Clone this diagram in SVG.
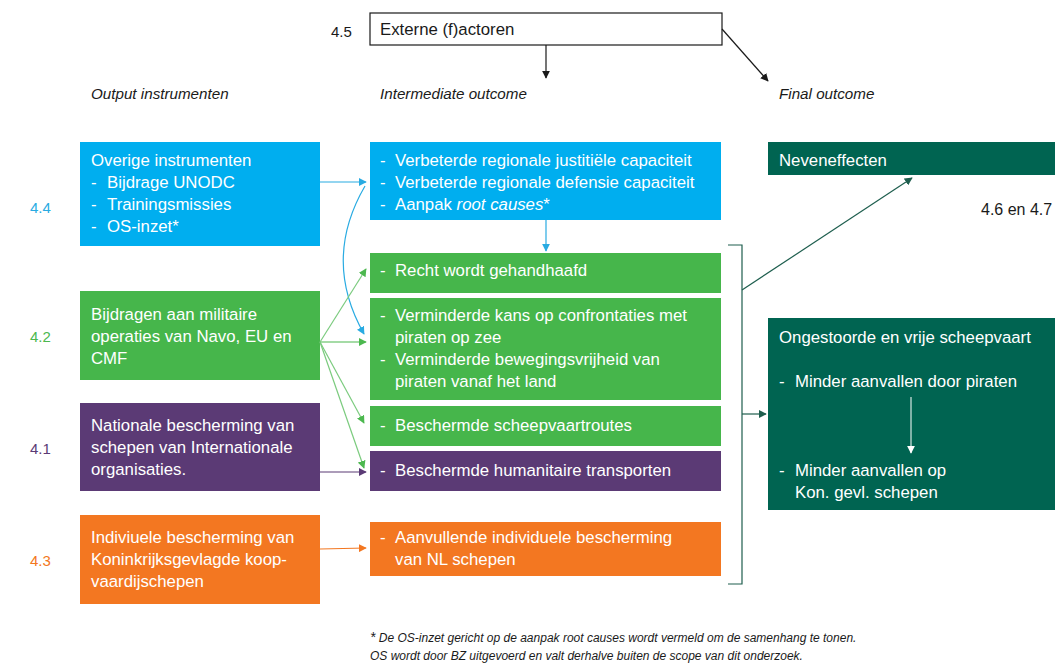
<svg xmlns="http://www.w3.org/2000/svg" width="1055" height="666" viewBox="0 0 1055 666">
<defs>
<style>
text{font-family:"Liberation Sans",Arial,sans-serif;font-size:16.8px;fill:#fff}
.k{fill:#1a1a1a}
.h{font-style:italic;font-size:15.2px;fill:#1a1a1a}
.n{font-size:15px}
.f{font-style:italic;font-size:12px;fill:#1a1a1a}
.blue{fill:#00AEEF}.green{fill:#46B64B}.purple{fill:#5B3A75}.orange{fill:#F37721}.dg{fill:#006451}
</style>
<marker id="aK" viewBox="0 0 10 10" refX="9" refY="5" markerWidth="8" markerHeight="8" orient="auto" markerUnits="userSpaceOnUse"><path d="M0,0L10,5L0,10z" fill="#1a1a1a"/></marker>
<marker id="aB" viewBox="0 0 10 10" refX="9" refY="5" markerWidth="8" markerHeight="8" orient="auto" markerUnits="userSpaceOnUse"><path d="M0,0L10,5L0,10z" fill="#29ABE2"/></marker>
<marker id="aG" viewBox="0 0 10 10" refX="9" refY="5" markerWidth="8" markerHeight="8" orient="auto" markerUnits="userSpaceOnUse"><path d="M0,0L10,5L0,10z" fill="#4CB84F"/></marker>
<marker id="aP" viewBox="0 0 10 10" refX="9" refY="5" markerWidth="8" markerHeight="8" orient="auto" markerUnits="userSpaceOnUse"><path d="M0,0L10,5L0,10z" fill="#5B3A75"/></marker>
<marker id="aO" viewBox="0 0 10 10" refX="9" refY="5" markerWidth="8" markerHeight="8" orient="auto" markerUnits="userSpaceOnUse"><path d="M0,0L10,5L0,10z" fill="#F37721"/></marker>
<marker id="aD" viewBox="0 0 10 10" refX="9" refY="5" markerWidth="8" markerHeight="8" orient="auto" markerUnits="userSpaceOnUse"><path d="M0,0L10,5L0,10z" fill="#1E5E4E"/></marker>
<marker id="aW" viewBox="0 0 10 10" refX="9" refY="5" markerWidth="8" markerHeight="8" orient="auto" markerUnits="userSpaceOnUse"><path d="M0,0L10,5L0,10z" fill="#fff"/></marker>
</defs>
<rect width="1055" height="666" fill="#fff"/>

<g id="labels">
<text class="k n" x="331" y="37">4.5</text>
<text class="h" x="91" y="99">Output instrumenten</text>
<text class="h" x="380" y="99">Intermediate outcome</text>
<text class="h" x="779" y="99">Final outcome</text>
<text class="n" x="30" y="213" style="fill:#29ABE2">4.4</text>
<text class="n" x="30" y="342" style="fill:#4CB84F">4.2</text>
<text class="n" x="30" y="454" style="fill:#5B3A75">4.1</text>
<text class="n" x="30" y="566" style="fill:#F37721">4.3</text>
<text class="k n" x="981" y="215" style="font-size:16px">4.6 en 4.7</text>
</g>

<g id="externe">
<rect x="370" y="13" width="352" height="32" fill="#fff" stroke="#1a1a1a" stroke-width="1.2"/>
<text class="k" x="380" y="35">Externe (f)actoren</text>
</g>

<g id="overige">
<rect class="blue" x="80" y="142" width="240" height="104"/>
<text x="91" y="166">Overige instrumenten</text>
<text x="91" y="188">-</text><text x="107" y="188">Bijdrage UNODC</text>
<text x="91" y="210">-</text><text x="107" y="210">Trainingsmissies</text>
<text x="91" y="232">-</text><text x="107" y="232">OS-inzet*</text>
</g>
<g id="bijdragen">
<rect class="green" x="80" y="291" width="240" height="89"/>
<text x="91" y="320">Bijdragen aan militaire</text>
<text x="91" y="342">operaties van Navo, EU en</text>
<text x="91" y="364">CMF</text>
</g>
<g id="nationale">
<rect class="purple" x="80" y="403" width="240" height="88"/>
<text x="91" y="431">Nationale bescherming van</text>
<text x="91" y="453">schepen van Internationale</text>
<text x="91" y="475">organisaties.</text>
</g>
<g id="individuele">
<rect class="orange" x="80" y="515" width="240" height="89"/>
<text x="91" y="543">Indiviuele bescherming van</text>
<text x="91" y="565">Koninkrijksgevlagde koop-</text>
<text x="91" y="587">vaardijschepen</text>
</g>

<g id="verbeterde">
<rect class="blue" x="370" y="142" width="351" height="78"/>
<text x="380" y="166">-</text><text x="395" y="166">Verbeterde regionale justitiële capaciteit</text>
<text x="380" y="188">-</text><text x="395" y="188">Verbeterde regionale defensie capaciteit</text>
<text x="380" y="210">-</text><text x="395" y="210">Aanpak <tspan font-style="italic">root causes</tspan>*</text>
</g>
<g id="recht">
<rect class="green" x="370" y="253" width="351" height="40"/>
<text x="380" y="276">-</text><text x="395" y="276">Recht wordt gehandhaafd</text>
</g>
<g id="verminderde">
<rect class="green" x="370" y="298" width="351" height="102"/>
<text x="380" y="321">-</text><text x="395" y="321">Verminderde kans op confrontaties met</text>
<text x="395" y="343">piraten op zee</text>
<text x="380" y="365">-</text><text x="395" y="365">Verminderde bewegingsvrijheid van</text>
<text x="395" y="387">piraten vanaf het land</text>
</g>
<g id="routes">
<rect class="green" x="370" y="406" width="351" height="40"/>
<text x="380" y="431">-</text><text x="395" y="431">Beschermde scheepvaartroutes</text>
</g>
<g id="humanitair">
<rect class="purple" x="370" y="451" width="351" height="40"/>
<text x="380" y="476">-</text><text x="395" y="476">Beschermde humanitaire transporten</text>
</g>
<g id="aanvullende">
<rect class="orange" x="370" y="522" width="351" height="54"/>
<text x="380" y="543">-</text><text x="395" y="543">Aanvullende individuele bescherming</text>
<text x="395" y="565">van NL schepen</text>
</g>

<g id="neveneffecten">
<rect class="dg" x="768" y="142" width="287" height="33"/>
<text x="779" y="166">Neveneffecten</text>
</g>
<g id="ongestoorde">
<rect class="dg" x="768" y="318" width="287" height="192"/>
<text x="779" y="343">Ongestoorde en vrije scheepvaart</text>
<text x="779" y="387">-</text><text x="795" y="387">Minder aanvallen door piraten</text>
<line x1="911" y1="397" x2="911" y2="453" stroke="#fff" stroke-width="1" marker-end="url(#aW)"/>
<text x="779" y="476">-</text><text x="795" y="476">Minder aanvallen op</text>
<text x="795" y="498">Kon. gevl. schepen</text>
</g>

<g id="connectors" fill="none" stroke-width="1.2">
<line x1="546" y1="45" x2="546" y2="78" stroke="#1a1a1a" marker-end="url(#aK)"/>
<line x1="722" y1="29" x2="768" y2="81" stroke="#1a1a1a" marker-end="url(#aK)"/>
<line x1="320" y1="182" x2="366" y2="182" stroke="#29ABE2" marker-end="url(#aB)"/>
<path d="M365,186 Q322,260 364,334" stroke="#29ABE2" marker-end="url(#aB)"/>
<line x1="546" y1="220" x2="546" y2="251" stroke="#29ABE2" marker-end="url(#aB)"/>
<line x1="320" y1="342" x2="366" y2="342" stroke="#4CB84F" marker-end="url(#aG)"/>
<line x1="320" y1="342" x2="366" y2="269" stroke="#7BCB7E" marker-end="url(#aG)"/>
<line x1="320" y1="342" x2="364" y2="423" stroke="#7BCB7E" marker-end="url(#aG)"/>
<line x1="320" y1="342" x2="364" y2="468" stroke="#7BCB7E" marker-end="url(#aG)"/>
<line x1="320" y1="472" x2="366" y2="472" stroke="#5B3A75" marker-end="url(#aP)"/>
<line x1="320" y1="549" x2="366" y2="548" stroke="#F37721" marker-end="url(#aO)"/>
<path d="M728,245 H742 V584 H728" stroke="#1E5E4E"/>
<line x1="742" y1="290" x2="912" y2="178" stroke="#1E5E4E" marker-end="url(#aD)"/>
<line x1="742" y1="414" x2="766" y2="414" stroke="#1E5E4E" marker-end="url(#aD)"/>
</g>

<g id="footnote">
<text class="f" x="370" y="642"><tspan font-size="14px">*</tspan> De OS-inzet gericht op de aanpak root causes wordt vermeld om de samenhang te tonen.</text>
<text class="f" x="370" y="660">OS wordt door BZ uitgevoerd en valt derhalve buiten de scope van dit onderzoek.</text>
</g>
</svg>
